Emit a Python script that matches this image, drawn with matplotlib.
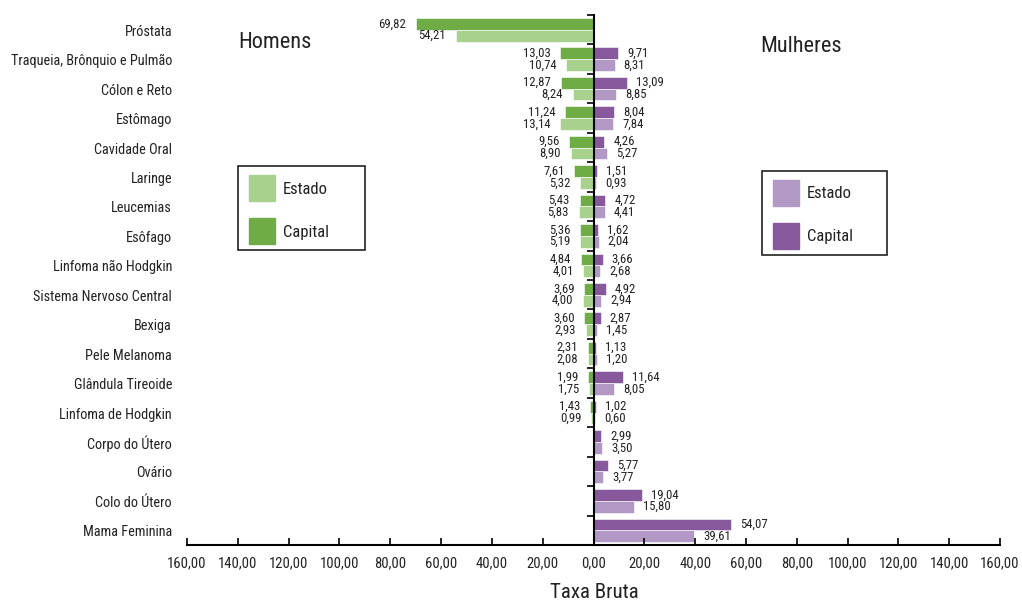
import matplotlib
matplotlib.use("Agg")
import matplotlib.pyplot as plt
import matplotlib.transforms as mtransforms
from matplotlib.patches import Rectangle
import numpy as np

plt.rcParams['font.family'] = ['Roboto Condensed', 'DejaVu Sans']

categorias = ["Próstata", "Traqueia, Brônquio e Pulmão", "Cólon e Reto", "Estômago",
              "Cavidade Oral", "Laringe", "Leucemias", "Esôfago", "Linfoma não Hodgkin",
              "Sistema Nervoso Central", "Bexiga", "Pele Melanoma", "Glândula Tireoide",
              "Linfoma de Hodgkin", "Corpo do Útero", "Ovário", "Colo do Útero",
              "Mama Feminina"]

# homens (lado esquerdo)
hom_capital = [69.82, 13.03, 12.87, 11.24, 9.56, 7.61, 5.43, 5.36, 4.84, 3.69, 3.60,
               2.31, 1.99, 1.43, None, None, None, None]
hom_estado = [54.21, 10.74, 8.24, 13.14, 8.90, 5.32, 5.83, 5.19, 4.01, 4.00, 2.93,
              2.08, 1.75, 0.99, None, None, None, None]
# mulheres (lado direito)
mul_capital = [None, 9.71, 13.09, 8.04, 4.26, 1.51, 4.72, 1.62, 3.66, 4.92, 2.87,
               1.13, 11.64, 1.02, 2.99, 5.77, 19.04, 54.07]
mul_estado = [None, 8.31, 8.85, 7.84, 5.27, 0.93, 4.41, 2.04, 2.68, 2.94, 1.45,
              1.20, 8.05, 0.60, 3.50, 3.77, 15.80, 39.61]

verde_cap = '#6fac46'
verde_est = '#a9d18e'
roxo_cap = '#87589c'
roxo_est = '#b298c4'
txt_cor = '#222222'


def fmt(v):
    return ("%.2f" % v).replace('.', ',')


fig = plt.figure(figsize=(10.22, 6.03), dpi=100)
ax = fig.add_axes([187/1022, 1-545/603, 813/1022, 530/603])

y = np.arange(len(categorias))
h = 0.4
off = 0.2


def barras(vals, sinal, dy, cor):
    for i, v in enumerate(vals):
        if v is None:
            continue
        ax.barh(y[i] + dy, sinal * v, height=h, color=cor, edgecolor='white', linewidth=0.4)
        if sinal < 0:
            ax.annotate(fmt(v), (-v, y[i] + dy), xytext=(-7, 0), textcoords='offset points',
                        ha='right', va='center', fontsize=9.2, color=txt_cor)
        else:
            ax.annotate(fmt(v), (v, y[i] + dy), xytext=(6.5, 0), textcoords='offset points',
                        ha='left', va='center', fontsize=9.2, color=txt_cor)


barras(hom_capital, -1, -off, verde_cap)
barras(hom_estado, -1, off, verde_est)
barras(mul_capital, 1, -off, roxo_cap)
barras(mul_estado, 1, off, roxo_est)

ax.set_xlim(-160, 160)
ax.set_ylim(len(categorias) - 0.5, -0.5)

xt = np.arange(-160, 161, 20)
ax.set_xticks(xt)
ax.set_xticklabels([fmt(abs(v)) for v in xt], fontsize=10.5, color=txt_cor)
ax.tick_params(axis='x', direction='in', length=5, width=1.2, pad=8)

ax.spines['top'].set_visible(False)
ax.spines['right'].set_visible(False)
ax.spines['left'].set_position(('data', 0))
ax.spines['left'].set_linewidth(1.5)
ax.spines['bottom'].set_linewidth(1.5)
ax.set_yticks(np.arange(-0.5, len(categorias), 1))
ax.set_yticklabels([])
ax.tick_params(axis='y', direction='out', length=5, width=1.2)

trans = mtransforms.blended_transform_factory(ax.transAxes, ax.transData)
trans = trans + mtransforms.ScaledTranslation(0, -2/100, fig.dpi_scale_trans)
for i, nome in enumerate(categorias):
    ax.text(-15/813, y[i], nome, transform=trans, ha='right', va='center',
            fontsize=10.3, color=txt_cor)

# titulo do eixo x
fig.text(594/1022, 1-593/603, "Taxa Bruta", fontsize=15, color=txt_cor, ha='center', va='center')

fig.text(238/1022, 1-42/603, "Homens", fontsize=16, color=txt_cor, va='center', ha='left')
fig.text(760/1022, 1-46/603, "Mulheres", fontsize=16, color=txt_cor, va='center', ha='left')


# caixas de legenda
def legenda(x0, y0, w, hh, cor_est, cor_cap):
    W, H = 1022, 603
    fig.patches.append(Rectangle((x0/W, 1-(y0+hh)/H), w/W, hh/H, transform=fig.transFigure,
                                 fill=False, edgecolor='#222222', linewidth=1.2))
    for k, (cor, lab) in enumerate([(cor_est, "Estado"), (cor_cap, "Capital")]):
        py = y0 + 9 + k * 43
        fig.patches.append(Rectangle(((x0+11)/W, 1-(py+26)/H), 26/W, 26/H,
                                     transform=fig.transFigure, color=cor))
        fig.text((x0+45)/W, 1-(py+14)/H, lab, fontsize=12, color=txt_cor, va='center')


legenda(238, 166, 127, 84, verde_est, verde_cap)
legenda(762, 171, 125, 84, roxo_est, roxo_cap)

fig.savefig("out.png", dpi=100)
